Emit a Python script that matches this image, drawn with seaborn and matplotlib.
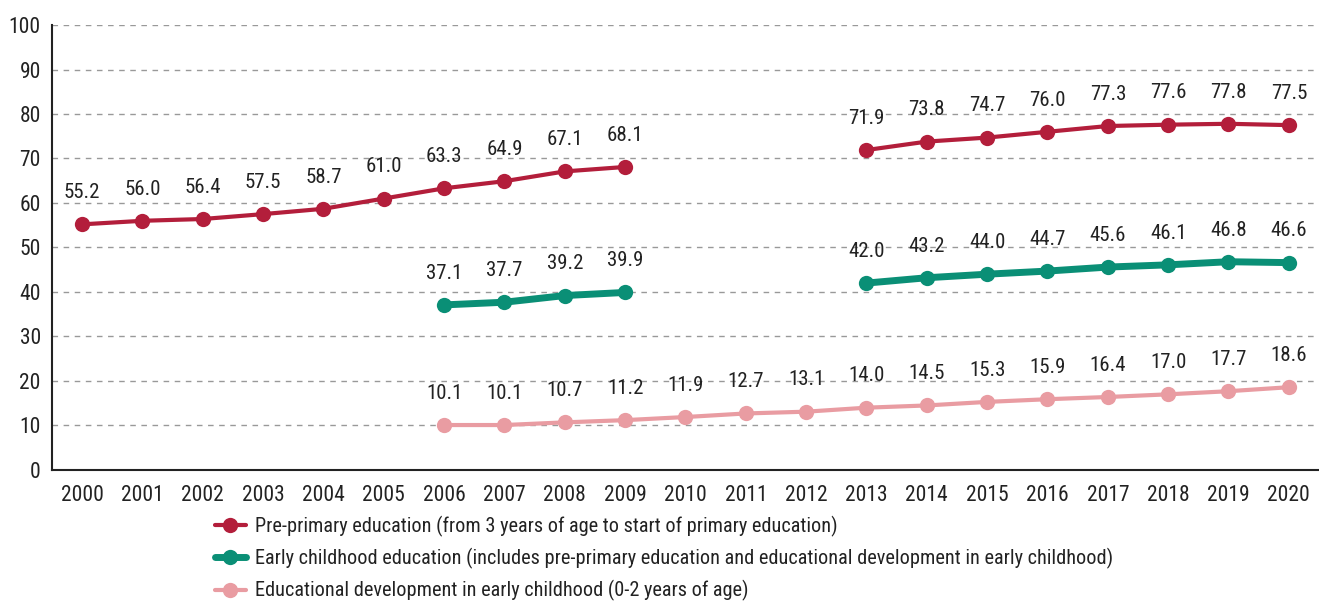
import numpy as np
import pandas as pd
import seaborn as sns
import matplotlib.pyplot as plt
from matplotlib.lines import Line2D
from matplotlib import font_manager

years = list(range(2000, 2021))

pre_primary = [55.2, 56.0, 56.4, 57.5, 58.7, 61.0, 63.3, 64.9, 67.1, 68.1,
               None, None, None,
               71.9, 73.8, 74.7, 76.0, 77.3, 77.6, 77.8, 77.5]
early_childhood = [None] * 6 + [37.1, 37.7, 39.2, 39.9, None, None, None,
                                42.0, 43.2, 44.0, 44.7, 45.6, 46.1, 46.8, 46.6]
development = [None] * 6 + [10.1, 10.1, 10.7, 11.2, 11.9, 12.7, 13.1, 14.0,
                            14.5, 15.3, 15.9, 16.4, 17.0, 17.7, 18.6]

series_names = [
    "Pre-primary education (from 3 years of age to start of primary education)",
    "Early childhood education (includes pre-primary education and educational development in early childhood)",
    "Educational development in early childhood (0-2 years of age)",
]
colors = ["#B31E3B", "#0A8F76", "#E99CA2"]
widths = [3.0, 5.0, 3.0]

# pick a condensed font if there is one
names = {f.name for f in font_manager.fontManager.ttflist}
fam = [f for f in ["Roboto Condensed", "Liberation Sans Narrow", "Roboto", "DejaVu Sans"] if f in names]

sns.set_style("white")
plt.rcParams["font.family"] = fam

# long table, a segment id so the gaps stay open
rows = []
for name, vals in zip(series_names, [pre_primary, early_childhood, development]):
    seg = 0
    prev = None
    for y, v in zip(years, vals):
        if v is None:
            if prev is not None:
                seg += 1
            prev = None
            continue
        rows.append({"year": y, "value": v, "series": name, "seg": seg})
        prev = v
df = pd.DataFrame(rows)

fig = plt.figure(figsize=(13.19, 6.04), dpi=100)
ax = fig.add_axes([0.0394, 0.2219, 0.9606, 0.7367])

for name, c, w in zip(series_names, colors, widths):
    sub = df[df["series"] == name]
    sns.lineplot(data=sub, x="year", y="value", units="seg", estimator=None,
                 color=c, lw=w, marker="o", markersize=11, markeredgewidth=0,
                 ax=ax, legend=False, zorder=3)
    for _, r in sub.iterrows():
        ax.annotate(f"{r['value']:.1f}", (r["year"], r["value"]),
                    xytext=(0, 16), textcoords="offset points",
                    ha="center", va="bottom", fontsize=15, color="#222222")

ax.set_xlim(1999.5, 2020.5)
ax.set_ylim(0, 100)
ax.set_yticks(range(0, 101, 10))
ax.set_xticks(np.arange(1999.5, 2021, 1))
ax.set_xticklabels([])
ax.set_xticks(years, minor=True)
ax.set_xticklabels([str(y) for y in years], minor=True)
ax.tick_params(axis="x", which="major", length=8, width=1.2, color="#222222", direction="out")
ax.tick_params(axis="x", which="minor", length=0, pad=11, labelsize=15.5, labelcolor="#222222")
ax.tick_params(axis="y", length=6, width=1.2, color="#222222", direction="out",
               labelsize=15.5, labelcolor="#222222", pad=2)
ax.grid(axis="y", ls=(0, (4, 4)), color="#999999", lw=1)
ax.set_axisbelow(True)
for s in ["top", "right"]:
    ax.spines[s].set_visible(False)
for s in ["left", "bottom"]:
    ax.spines[s].set_color("#222222")
    ax.spines[s].set_linewidth(1.5)
ax.set_xlabel("")
ax.set_ylabel("")

handles = [Line2D([0], [0], color=c, lw=w, marker="o", markersize=11, markeredgewidth=0)
           for c, w in zip(colors, widths)]
fig.legend(handles, series_names, loc="upper left", bbox_to_anchor=(0.157, 0.160),
           frameon=False, fontsize=14.6, handlelength=1.5, labelspacing=0.56,
           handletextpad=0.45, borderaxespad=0, labelcolor="#222222")

fig.savefig("out.png", dpi=100)
